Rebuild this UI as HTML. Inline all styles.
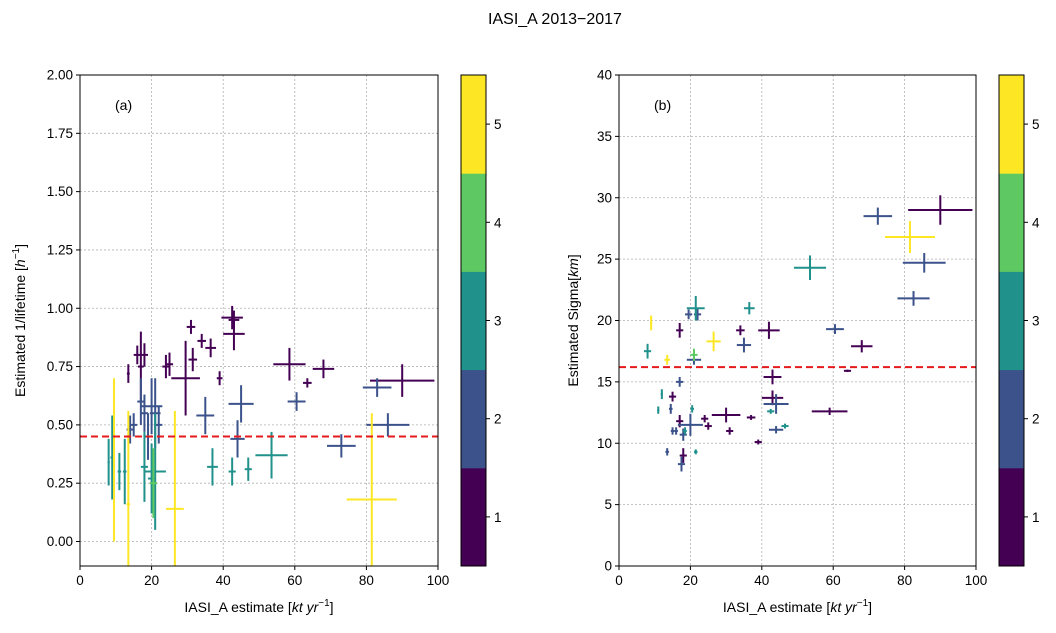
<!DOCTYPE html>
<html><head><meta charset="utf-8"><style>
body{margin:0;background:#fff}
svg text{font-family:"Liberation Sans","DejaVu Sans",sans-serif;fill:#000}
</style></head><body>
<svg id="s" width="1056" height="628" viewBox="0 0 1056 628" xmlns="http://www.w3.org/2000/svg">
<text x="555" y="24" font-size="16" text-anchor="middle">IASI_A 2013−2017</text>
</svg>
<script>
// Left panel data: x, xerr, y, yerr, class
const leftX=[13.5,16,17,18,24,25,29.5,31,31.5,34,36.5,39,42.5,43,43,58.5,63.5,68,90, 14,15,17,18,19,20,21,22,35,44,45,60.5,73,83,86, 8,9,11,12.5,18,20,21,37,42.5,47,53.5, 20.5, 9.5,13.5,26.5,81.5];
const leftXErr=[0.4,1,0.8,1,1,1,4,1.2,1.2,1.2,1.5,0.8,3,1.5,3,4.5,1.2,3,9, 1,1,1,1,1,3,1.5,1,2.5,2,3.5,2.5,4,4,6, 0.3,0.5,0.5,0.5,1,1,3,1.5,1,1,4.5, 1, 0.3,0.5,2.5,7];
const leftY=[0.72,0.8,0.75,0.8,0.75,0.76,0.7,0.92,0.78,0.86,0.83,0.7,0.96,0.95,0.89,0.76,0.68,0.74,0.69, 0.48,0.5,0.6,0.55,0.45,0.58,0.55,0.5,0.54,0.44,0.59,0.6,0.41,0.66,0.5, 0.34,0.36,0.3,0.3,0.32,0.27,0.3,0.32,0.3,0.31,0.37, 0.25, 0.35,0.16,0.14,0.18];
const leftYErr=[0.04,0.04,0.15,0.05,0.05,0.05,0.16,0.03,0.05,0.03,0.04,0.03,0.05,0.04,0.07,0.07,0.02,0.04,0.07, 0.06,0.05,0.1,0.08,0.1,0.12,0.15,0.08,0.08,0.08,0.08,0.04,0.05,0.04,0.05, 0.1,0.18,0.08,0.14,0.15,0.15,0.25,0.08,0.06,0.05,0.1, 0.15, 0.35,0.4,0.42,0.37];
const leftC=[1,1,1,1,1,1,1,1,1,1,1,1,1,1,1,1,1,1,1, 2,2,2,2,2,2,2,2,2,2,2,2,2,2,2, 3,3,3,3,3,3,3,3,3,3,3, 4, 5,5,5,5];
// Right panel data
const rightX=[17,34,42,43,43,59,68,90,15,17,18,24,25,30,31,37,39,64, 72.5,85.5,82.5,60.5,35,22,19.5,21,17,14.5,20,18,17.5,15,13.5,44,44,16, 21.5,36.5,53.5,8,12,11,20.5,21.5,42.5,46.5,18.5, 21, 9,13.5,26.5,81.5];
const rightXErr=[1,1.2,3,2.5,3,5,3,9,1,1,1,1,1,4,1,1.2,1,1, 4,6,4.5,2.5,2,1,1,2,1,0.5,3.5,1,1,0.5,0.5,3.5,2,0.5, 2.5,1.5,4.5,1,0.3,0.3,0.5,0.5,1,1,0.5, 1, 0.3,0.8,2,7];
const rightY=[19.2,19.2,19.2,15.4,13.7,12.6,17.9,29,13.8,11.8,9,12,11.4,12.3,11,12.1,10.1,15.9, 28.5,24.7,21.8,19.3,18,20.5,20.5,16.8,15,12.8,11.5,10.7,8.3,11,9.3,13.2,11.1,11, 21,21,24.3,17.5,14,12.7,12.8,9.3,12.6,11.4,11, 17.2, 19.8,16.8,18.3,26.8];
const rightYErr=[0.6,0.4,0.7,0.6,0.6,0.3,0.5,1.2,0.4,0.5,0.6,0.3,0.3,0.6,0.3,0.2,0.2,0.1, 0.7,0.8,0.6,0.4,0.6,0.5,0.4,0.4,0.4,0.4,0.9,0.5,0.6,0.3,0.3,0.8,0.3,0.3, 1,0.5,1,0.6,0.4,0.3,0.3,0.2,0.2,0.2,0.3, 0.5, 0.6,0.4,0.8,1.3];
const rightC=[1,1,1,1,1,1,1,1,1,1,1,1,1,1,1,1,1,1, 2,2,2,2,2,2,2,2,2,2,2,2,2,2,2,2,2,2, 3,3,3,3,3,3,3,3,3,3,3, 4, 5,5,5,5];
const leftYTicks=["0.00","0.25","0.50","0.75","1.00","1.25","1.50","1.75","2.00"];
const rightYTicks=["0","5","10","15","20","25","30","35","40"];
const xTicks=["0","20","40","60","80","100"];
const cbTicks=["1","2","3","4","5"];
const leftRef=0.45, rightRef=16.2;
const colors=["#440154","#3b528b","#21918c","#5ec962","#fde725"];

const svg=document.getElementById('s');
const NS="http://www.w3.org/2000/svg";
function mk(tag,attrs,parent){const e=document.createElementNS(NS,tag);for(const k in attrs)e.setAttribute(k,attrs[k]);(parent||svg).appendChild(e);return e;}

function panel(p){
  const g=mk('g',{});
  
  
  const cp=mk('clipPath',{id:'clip-'+p.name},g);
  mk('rect',{x:p.x0,y:p.y0,width:p.x1-p.x0,height:p.y1-p.y0},cp);
  const sx=v=>p.x0+(v-0)/100*(p.x1-p.x0);
  const sy=v=>p.y1-(v-p.ymin)/(p.ymax-p.ymin)*(p.y1-p.y0);
  xTicks.forEach(t=>{const X=sx(+t);
    const l=mk('line',{x1:X,x2:X,y1:p.y0,y2:p.y1,stroke:'#b0b0b0','stroke-width':0.8,'stroke-dasharray':'2,2'},g);
    
    mk('line',{x1:X,x2:X,y1:p.y1,y2:p.y1+4,stroke:'#000'},g);
    const tx=mk('text',{x:X,y:p.y1+19,'font-size':13.5,'text-anchor':'middle'},g);tx.textContent=t;
    
  });
  p.yt.forEach(t=>{const Y=sy(+t);
    const l=mk('line',{x1:p.x0,x2:p.x1,y1:Y,y2:Y,stroke:'#b0b0b0','stroke-width':0.8,'stroke-dasharray':'2,2'},g);
    
    mk('line',{x1:p.x0-4,x2:p.x0,y1:Y,y2:Y,stroke:'#000'},g);
    const tx=mk('text',{x:p.x0-7,y:Y+4.5,'font-size':13.5,'text-anchor':'end'},g);tx.textContent=t;
    
  });
  const marks=mk('g',{'clip-path':'url(#clip-'+p.name+')'},g);
  
  
  for(let i=0;i<p.X.length;i++){
    const e=mk('g',{stroke:colors[p.C[i]-1],'stroke-width':2},marks);
    
    mk('line',{x1:sx(p.X[i]-p.XE[i]),x2:sx(p.X[i]+p.XE[i]),y1:sy(p.Y[i]),y2:sy(p.Y[i])},e);
    mk('line',{x1:sx(p.X[i]),x2:sx(p.X[i]),y1:sy(p.Y[i]-p.YE[i]),y2:sy(p.Y[i]+p.YE[i])},e);
  }
  const r=mk('line',{x1:p.x0,x2:p.x1,y1:sy(p.ref),y2:sy(p.ref),stroke:'#e41a1c','stroke-width':2,'stroke-dasharray':'7,4'},g);
  
  const fr=mk('rect',{x:p.x0,y:p.y0,width:p.x1-p.x0,height:p.y1-p.y0,fill:'none',stroke:'#000'},g);
  
  const lab=mk('text',{x:p.x0+35,y:p.y0+35,'font-size':14},g);lab.textContent=p.label;
  
  const xl=mk('text',{x:(p.x0+p.x1)/2,y:p.y1+46,'font-size':14,'text-anchor':'middle'},g);
  xl.innerHTML='IASI_A estimate [<tspan font-style="italic">kt yr</tspan><tspan dy="-6" font-size="10">−1</tspan><tspan dy="6">]</tspan>';
  
  const yl=mk('text',{transform:`translate(${p.ylx},${(p.y0+p.y1)/2}) rotate(-90)`,'font-size':14,'text-anchor':'middle'},g);
  yl.innerHTML=p.ylab;
  
  const cb=mk('g',{},g);
  
  const h=(p.y1-p.y0)/5;
  for(let k=0;k<5;k++){mk('rect',{x:p.cbx,y:p.y1-(k+1)*h,width:25,height:h+0.5,fill:colors[k]},cb);}
  mk('rect',{x:p.cbx,y:p.y0,width:25,height:p.y1-p.y0,fill:'none',stroke:'#000'},cb);
  cbTicks.forEach(t=>{const Y=p.y1-(+t-0.5)*h;
    mk('line',{x1:p.cbx+25,x2:p.cbx+29,y1:Y,y2:Y,stroke:'#000'},cb);
    const tx=mk('text',{x:p.cbx+33,y:Y+5,'font-size':13.5},cb);tx.textContent=t;
    
  });
}
panel({name:'left-panel',x0:80,x1:438,y0:75,y1:566,ymin:-0.105,ymax:2.0,X:leftX,XE:leftXErr,Y:leftY,YE:leftYErr,C:leftC,yt:leftYTicks,ref:leftRef,label:'(a)',cbx:461,ylx:25,
  ylab:'Estimated 1/lifetime [<tspan font-style="italic">h</tspan><tspan dy="-6" font-size="10">−1</tspan><tspan dy="6">]</tspan>'});
panel({name:'right-panel',x0:619,x1:976,y0:75,y1:566,ymin:0,ymax:40,X:rightX,XE:rightXErr,Y:rightY,YE:rightYErr,C:rightC,yt:rightYTicks,ref:rightRef,label:'(b)',cbx:999,ylx:578,
  ylab:'Estimated Sigma[<tspan font-style="italic">km</tspan>]'});
</script>
</body></html>
